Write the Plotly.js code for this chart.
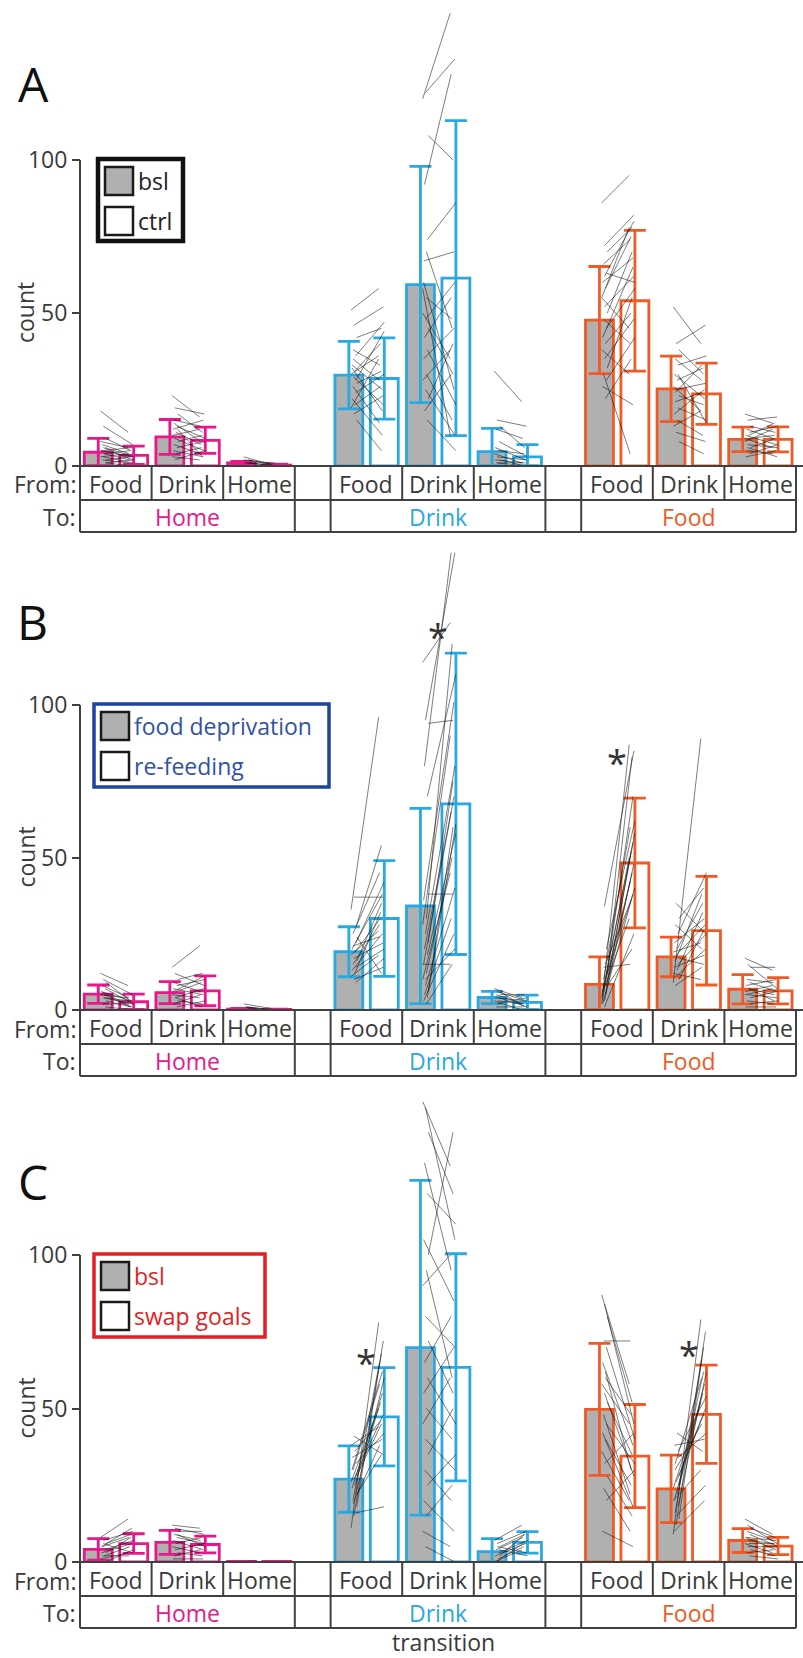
<!DOCTYPE html>
<html><head><meta charset="utf-8">
<script src="https://cdn.plot.ly/plotly-3.0.1.min.js"></script>
<style>body{margin:0;background:#fff}#chart{width:803px;height:1658px}</style>
</head><body><div id="chart"></div>
<script>
// ---------- categories / labels ----------
const fromLabels = ['Food','Drink','Home','Food','Drink','Home','Food','Drink','Home'];
const toLabels = ['Home','Drink','Food'];
const panelLetters = ['A','B','C'];
const legendLabels = [['bsl','ctrl'],['food deprivation','re-feeding'],['bsl','swap goals']];
const yTicks = [0,50,100];

// ---------- panel A : bsl vs ctrl ----------
const A_bsl_mean  = [4.5, 9.5, 1.0, 29.7, 59.3, 4.7, 47.7, 25.2, 8.7];
const A_bsl_sd    = [4.5, 5.7, 0.5, 11.0, 38.6, 7.6, 17.5, 10.7, 4.0];
const A_ctrl_mean = [3.5, 8.4, 0.3, 28.6, 61.4, 3.0, 54.0, 23.6, 8.7];
const A_ctrl_sd   = [3.0, 4.3, 0.3, 13.3, 51.5, 4.0, 23.0, 10.0, 4.1];
const A_pairs = [
 [[18,11],[13,7],[9,5],[7,4],[6,3],[5,6],[4,2],[3,4],[3,1],[2,3],[2,1],[1,2],[5,3],[4,5],[8,6],[6,2],[1,0]],
 [[23,16],[19,17],[17,11],[15,13],[13,9],[12,15],[11,7],[10,12],[9,5],[8,10],[7,4],[6,8],[5,3],[4,6],[3,2],[2,5],[12,3],[14,8]],
 [[2,1],[1,0],[1,0],[0,0],[2,0],[1,1],[0,0],[3,0.5]],
 [[51,58],[46,52],[42,45],[38,33],[36,47],[33,25],[31,40],[30,36],[29,20],[27,31],[26,14],[24,30],[22,10],[20,26],[19,35],[17,23],[15,5],[35,28],[28,44],[32,18]],
 [[120,148],[122,133],[108,100],[92,128],[74,86],[67,70],[55,48],[50,35],[48,60],[45,30],[42,55],[38,20],[35,45],[30,15],[28,38],[25,10],[22,40],[18,30],[15,5],[60,25],[70,45],[58,10]],
 [[31,21],[15,13],[13,6],[12,9],[8,3],[6,2],[5,4],[4,1],[3,2],[2,0],[1,1],[0,0],[2,1],[1,0]],
 [[86,95],[72,82],[70,78],[66,74],[63,60],[60,68],[58,75],[55,45],[52,62],[50,70],[48,40],[45,58],[42,65],[40,50],[38,30],[35,48],[32,55],[30,4],[28,42],[26,20],[22,35],[55,78],[62,80]],
 [[52,40],[40,46],[38,30],[35,28],[33,36],[30,22],[28,32],[26,18],[25,27],[23,20],[21,24],[19,15],[17,25],[15,10],[13,18],[11,8],[8,4],[24,33],[30,14]],
 [[17,14],[15,16],[13,11],[12,9],[11,13],[10,7],[9,10],[8,12],[7,6],[6,9],[5,4],[4,7],[3,5],[10,14],[9,6],[6,3]]
];
const A_sig_cols = [];
const A_sig_y = [];

// ---------- panel B : food deprivation vs re-feeding ----------
const B_bsl_mean  = [5.2, 5.7, 0.3, 19.1, 34.1, 4.1, 8.4, 17.4, 6.8];
const B_bsl_sd    = [3.0, 3.6, 0.2, 8.2, 32.0, 2.0, 9.0, 6.5, 4.8];
const B_ctrl_mean = [2.7, 6.3, 0.2, 30.0, 67.6, 2.5, 48.2, 26.0, 6.3];
const B_ctrl_sd   = [2.5, 4.9, 0.1, 19.0, 49.4, 2.4, 21.3, 17.8, 4.3];
const B_pairs = [
 [[12,8],[10,5],[9,3],[8,4],[7,2],[6,3],[5,1],[5,4],[4,2],[3,1],[2,2],[1,0],[6,1],[4,3]],
 [[14,21],[12,8],[10,12],[9,6],[8,10],[7,5],[6,9],[5,4],[4,7],[3,2],[2,5],[1,3],[6,11],[4,1]],
 [[2,0.5],[1,0],[0,0],[1,0],[0.5,0]],
 [[33,96],[37,37],[28,54],[25,45],[22,42],[20,38],[19,30],[18,26],[17,22],[16,35],[15,28],[14,20],[13,25],[12,32],[11,18],[10,14],[24,12],[21,24],[9,17]],
 [[114,127],[95,150],[94,95],[80,150],[70,110],[36,101],[30,120],[28,90],[25,80],[22,75],[20,65],[18,58],[15,70],[12,50],[10,45],[8,40],[6,60],[5,30],[4,61],[3,25],[2,15],[15,15],[10,20],[38,38]],
 [[7,4],[6,3],[5,5],[5,2],[4,1],[4,3],[3,2],[3,0],[2,4],[6,1],[1,1]],
 [[2,87],[34,85],[12,83],[10,60],[8,58],[6,55],[5,52],[4,50],[3,48],[9,45],[7,42],[11,40],[2,38],[15,36],[5,30],[1,25],[8,20],[14,15],[20,62],[3,70]],
 [[9,89],[35,25],[30,40],[28,20],[25,45],[22,30],[20,35],[19,22],[18,28],[17,15],[16,38],[15,25],[14,18],[13,32],[12,10],[11,20],[10,26],[8,14]],
 [[17,13],[15,7],[14,14],[10,9],[9,6],[8,10],[7,5],[6,8],[5,4],[4,6],[3,2],[2,3],[1,1],[7,3],[5,7]]
];
const B_sig_cols = [4, 6];
const B_sig_y = [125, 83.5];

// ---------- panel C : bsl vs swap goals ----------
const C_bsl_mean  = [4.1, 6.4, 0.2, 27.0, 69.8, 3.4, 49.7, 23.8, 7.0];
const C_bsl_sd    = [3.5, 3.9, 0.0, 10.8, 54.5, 4.2, 21.5, 11.0, 3.9];
const C_ctrl_mean = [6.0, 5.7, 0.2, 47.3, 63.4, 6.4, 34.5, 48.1, 5.2];
const C_ctrl_sd   = [3.2, 2.7, 0.0, 16.0, 37.0, 3.5, 16.8, 16.0, 2.8];
const C_pairs = [
 [[8,14],[7,10],[6,9],[5,8],[4,7],[3,6],[2,5],[1,3],[6,3],[3,8],[2,2],[0,4],[5,11]],
 [[12,11],[11,9],[10,10],[9,7],[8,6],[7,4],[6,8],[5,3],[4,6],[3,2],[2,4],[9,5],[1,1]],
 [[0,0],[0,0],[0.3,0]],
 [[11,78],[15,72],[18,68],[20,65],[22,60],[24,55],[25,52],[26,50],[27,48],[28,45],[30,58],[32,42],[34,40],[36,46],[38,44],[41,35],[22,35],[19,38],[16,18],[30,62]],
 [[150,129],[148,105],[140,120],[130,95],[120,110],[105,85],[95,60],[90,100],[80,70],[72,55],[65,80],[60,45],[55,70],[50,40],[45,60],[40,30],[35,50],[30,20],[25,35],[20,10],[15,25],[10,5],[5,0],[100,140]],
 [[7,12],[6,10],[5,9],[4,8],[3,7],[2,6],[1,5],[0,4],[5,3],[2,9],[0,6],[4,2]],
 [[87,58],[84,45],[80,52],[72,72],[70,40],[65,38],[62,30],[58,45],[55,28],[52,35],[48,22],[45,32],[42,18],[40,25],[36,20],[32,42],[28,15],[24,10],[20,30],[10,5],[60,48]],
 [[9,79],[12,75],[14,70],[16,66],[18,62],[20,58],[22,55],[24,52],[26,50],[28,48],[30,45],[34,42],[38,40],[42,36],[20,30],[15,25],[25,62],[32,60],[36,54],[10,20]],
 [[14,9],[12,6],[11,8],[10,7],[9,5],[8,4],[7,6],[6,3],[5,5],[4,2],[3,4],[2,1],[8,7],[6,6]]
];
const C_sig_cols = [3, 7];
const C_sig_y = [67.5, 70];

// ---------- styling / layout constants ----------
const W = 803, H = 1658;
const AXIS_PX = 80, UNIT_PX = 71.6;
const FONT = 'Open Sans, Noto Sans, sans-serif';
const TXT = '#3a3a3a';
const LINE = '#404040';
const GRAY = '#b0b0b0';
const groupColors = ['#E8178A', '#29A9E1', '#F15A24'];
const panelZeroPx = [466, 1010, 1562];
const panelScale = [3.06, 3.05, 3.07];
const letterPos = [[33, 83], [32, 621], [33, 1181]];
const legendBox = [[98,183,159,241],[94,329,704,787],[94,265,1254,1337]];
const legendBorder = ['#111111', '#1F449C', '#E41E25'];
const legendBorderW = [4.5, 3.5, 3.5];
const legendText = ['#222222', '#3352A3', '#E41E25'];
const ROW1 = 34, ROW2 = 66;

const px = v => v / W;
const py = v => 1 - v / H;
const colCenter = c => Math.floor(c / 3) * 3.5 + (c % 3) + 0.5;
const BSL_OFF = -0.245, CTRL_OFF = 0.25, BAR_W = 0.39;

const panels = [
  {s:'',  bm:A_bsl_mean, bs:A_bsl_sd, cm:A_ctrl_mean, cs:A_ctrl_sd, pairs:A_pairs, sigC:A_sig_cols, sigY:A_sig_y},
  {s:'2', bm:B_bsl_mean, bs:B_bsl_sd, cm:B_ctrl_mean, cs:B_ctrl_sd, pairs:B_pairs, sigC:B_sig_cols, sigY:B_sig_y},
  {s:'3', bm:C_bsl_mean, bs:C_bsl_sd, cm:C_ctrl_mean, cs:C_ctrl_sd, pairs:C_pairs, sigC:C_sig_cols, sigY:C_sig_y}
];

const traces = [], shapes = [], annotations = [];
const layout = {
  width: W, height: H, margin: {l:0, r:0, t:0, b:0},
  paper_bgcolor: '#fff', plot_bgcolor: 'rgba(0,0,0,0)',
  showlegend: false, barmode: 'overlay',
  font: {family: FONT, color: TXT, size: 23}
};

panels.forEach((P, p) => {
  const s = P.s, xa = 'x' + s, ya = 'y' + s;
  const zero = panelZeroPx[p], sc = panelScale[p];
  layout['xaxis' + s] = {
    domain: [0, 1], range: [-AXIS_PX / UNIT_PX, (W - AXIS_PX) / UNIT_PX],
    visible: false, anchor: ya, fixedrange: true
  };
  layout['yaxis' + s] = {
    domain: [py(zero), py(zero - 150 * sc)], range: [0, 150],
    anchor: 'free', position: AXIS_PX / W,
    tickvals: yTicks, ticktext: yTicks.map(String),
    ticks: 'outside', ticklen: 8, tickwidth: 2, tickcolor: LINE,
    showline: false, showgrid: false, zeroline: false,
    tickfont: {family: FONT, size: 23, color: TXT}, fixedrange: true
  };

  // bars, per group (one colour per group)
  for (let g = 0; g < 3; g++) {
    const idx = [g*3, g*3+1, g*3+2];
    [['bsl', P.bm, P.bs, GRAY, BSL_OFF], ['ctrl', P.cm, P.cs, '#ffffff', CTRL_OFF]].forEach(([nm, m, sd, fill, off]) => {
      traces.push({
        type: 'bar', xaxis: xa, yaxis: ya, name: nm,
        x: idx.map(c => colCenter(c) + off),
        y: idx.map(c => m[c]),
        width: BAR_W,
        marker: {color: fill, line: {color: groupColors[g], width: 2.8}},
        error_y: {type: 'data', symmetric: false,
          array: idx.map(c => sd[c]),
          arrayminus: idx.map(c => Math.min(sd[c], m[c])),
          color: groupColors[g], thickness: 2.8, width: 11},
        hoverinfo: 'skip'
      });
    });
  }

  // individual subject lines
  const xs = [], ys = [];
  P.pairs.forEach((grp, c) => {
    const cc = colCenter(c);
    grp.forEach((pr, i) => {
      const j1 = (((i * 3) % 7) - 3) * 0.013, j2 = (((i * 5) % 7) - 3) * 0.013;
      xs.push(cc + BSL_OFF + 0.07 + j1, cc + CTRL_OFF - 0.04 + j2, null);
      ys.push(pr[0], pr[1], null);
    });
  });
  traces.push({type: 'scatter', mode: 'lines', xaxis: xa, yaxis: ya, x: xs, y: ys,
    line: {color: 'rgba(20,20,20,0.55)', width: 1}, connectgaps: false, hoverinfo: 'skip'});

  // y axis line 0..100
  shapes.push({type: 'line', xref: xa, yref: ya, x0: 0, x1: 0, y0: 0, y1: 100,
    line: {color: LINE, width: 2}});

  // table
  const tl = {color: LINE, width: 2};
  shapes.push({type:'line', xref: xa, yref:'paper', x0: 0, x1: 10.1, y0: py(zero), y1: py(zero), line: tl});
  shapes.push({type:'line', xref: xa, yref:'paper', x0: 0, x1: 10, y0: py(zero+ROW1), y1: py(zero+ROW1), line: tl});
  shapes.push({type:'line', xref: xa, yref:'paper', x0: 0, x1: 10, y0: py(zero+ROW2), y1: py(zero+ROW2), line: tl});
  const fromBounds = [], toBounds = [];
  for (let g = 0; g < 3; g++) {
    for (let k = 0; k <= 3; k++) fromBounds.push(g * 3.5 + k);
    toBounds.push(g * 3.5, g * 3.5 + 3);
  }
  fromBounds.forEach(x => shapes.push({type:'line', xref: xa, yref:'paper', x0: x, x1: x,
    y0: py(zero), y1: py(zero+ROW1), line: tl}));
  toBounds.forEach(x => shapes.push({type:'line', xref: xa, yref:'paper', x0: x, x1: x,
    y0: py(zero+ROW1), y1: py(zero+ROW2), line: tl}));
  fromLabels.forEach((t, c) => annotations.push({xref: xa, yref: 'paper', x: colCenter(c),
    y: py(zero + ROW1/2 + 0.5), text: t, showarrow: false, xanchor:'center', yanchor:'middle',
    font: {family: FONT, size: 23, color: TXT}}));
  toLabels.forEach((t, g) => annotations.push({xref: xa, yref: 'paper', x: g * 3.5 + 1.5,
    y: py(zero + (ROW1 + ROW2)/2 + 0.5), text: t, showarrow: false, xanchor:'center', yanchor:'middle',
    font: {family: FONT, size: 23, color: groupColors[g]}}));
  annotations.push({xref:'paper', yref:'paper', x: px(78), y: py(zero + ROW1/2 + 1.5), text:'From:',
    showarrow:false, xanchor:'right', yanchor:'middle', font:{family: FONT, size: 23, color: TXT}});
  annotations.push({xref:'paper', yref:'paper', x: px(78), y: py(zero + (ROW1+ROW2)/2 + 0.5), text:'To:',
    showarrow:false, xanchor:'right', yanchor:'middle', font:{family: FONT, size: 23, color: TXT}});

  // y title
  annotations.push({xref:'paper', yref: ya, x: px(25), y: 50, text:'count', textangle: -90,
    showarrow:false, xanchor:'center', yanchor:'middle', font:{family: FONT, size: 23, color: TXT}});

  // panel letter
  annotations.push({xref:'paper', yref:'paper', x: px(letterPos[p][0]), y: py(letterPos[p][1]),
    text: panelLetters[p], showarrow:false, xanchor:'center', yanchor:'middle',
    font:{family: FONT, size: 48, color: '#111'}});

  // significance stars
  P.sigC.forEach((c, i) => annotations.push({xref: xa, yref: ya, x: colCenter(c), y: P.sigY[i] - 2.5,
    text: '*', showarrow: false, xanchor:'center', yanchor:'middle',
    font: {family: FONT, size: 36, color: '#333'}}));

  // legend
  const [l, r, t, b] = legendBox[p];
  shapes.push({type:'rect', xref:'paper', yref:'paper', x0: px(l), x1: px(r), y0: py(b), y1: py(t),
    fillcolor:'#fff', line:{color: legendBorder[p], width: legendBorderW[p]}});
  [GRAY, '#ffffff'].forEach((fc, i) => {
    const top = t + 8 + i * 40;
    shapes.push({type:'rect', xref:'paper', yref:'paper', x0: px(l + 7), x1: px(l + 35),
      y0: py(top + 28), y1: py(top), fillcolor: fc, line:{color:'#1a1a1a', width: 2.5}});
    annotations.push({xref:'paper', yref:'paper', x: px(l + 38), y: py(top + 14),
      text: legendLabels[p][i], showarrow:false, xanchor:'left', yanchor:'middle',
      font:{family: FONT, size: 23, color: legendText[p]}});
  });
});

annotations.push({xref:'paper', yref:'paper', x: px(443), y: py(1642), text:'transition',
  showarrow:false, xanchor:'center', yanchor:'middle', font:{family: FONT, size: 23, color: TXT}});

layout.shapes = shapes;
layout.annotations = annotations;
Plotly.newPlot('chart', traces, layout, {displayModeBar: false, staticPlot: true});
</script>
</body></html>
